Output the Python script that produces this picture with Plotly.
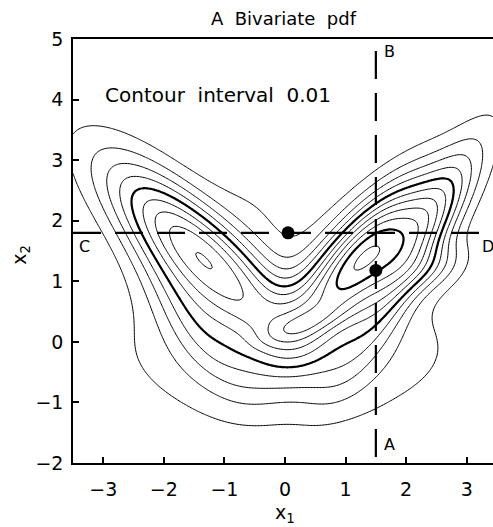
import numpy as np
import plotly.graph_objects as go

# Mixture components describing the bivariate pdf (read/fitted from the picture)
comp_x1 = [1.298, -1.479, 0.054, -0.186, 2.184, -1.631, 2.488, 0.35]
comp_x2 = [1.426, 1.530, -0.098, 3.265, 1.579, 0.521, 1.232, 0.30]
comp_sd_major = [1.098, 1.349, 1.729, 2.554, 0.297, 0.970, 0.249, 0.55]
comp_sd_minor = [0.408, 0.444, 0.791, 0.655, 1.318, 0.356, 0.421, 0.15]
comp_angle_deg = [49.1, 135.9, -0.2, -281.7, 149.4, 126.4, 295.5, 20.0]
comp_peak = [0.1049, 0.0827, 0.0277, 0.0082, 0.0481, 0.0218, 0.0196, 0.012]

contour_start, contour_end, contour_step = 0.01, 0.11, 0.01
thick_start, thick_end, thick_step = 0.05, 0.10, 0.05

line_AB_x = [1.5, 1.5]
line_AB_y = [4.8, -2.0]
line_CD_x = [-3.5, 3.27]
line_CD_y = [1.8, 1.8]
dots_x = [0.05, 1.5]
dots_y = [1.8, 1.18]

x_ticks = [-3, -2, -1, 0, 1, 2, 3]
y_ticks = [-2, -1, 0, 1, 2, 3, 4, 5]

xs = np.linspace(-3.5, 3.5, 281)
ys = np.linspace(-2, 5, 281)
XX, YY = np.meshgrid(xs, ys)
Z = np.zeros_like(XX)
for mx, my, su, sv, ang, h in zip(comp_x1, comp_x2, comp_sd_major, comp_sd_minor, comp_angle_deg, comp_peak):
    c, s = np.cos(np.radians(ang)), np.sin(np.radians(ang))
    dx, dy = XX - mx, YY - my
    u = dx * c + dy * s
    v = -dx * s + dy * c
    Z += h * np.exp(-0.5 * ((u / su) ** 2 + (v / sv) ** 2))

fig = go.Figure()
fig.add_trace(go.Contour(x=xs, y=ys, z=Z,
                         contours=dict(start=contour_start, end=contour_end, size=contour_step, coloring='none'),
                         line=dict(color='black', width=1), showscale=False, hoverinfo='skip'))
fig.add_trace(go.Contour(x=xs, y=ys, z=Z,
                         contours=dict(start=thick_start, end=thick_end, size=thick_step, coloring='none'),
                         line=dict(color='black', width=2.2), showscale=False, hoverinfo='skip'))
fig.add_trace(go.Scatter(x=line_AB_x, y=line_AB_y, mode='lines',
                         line=dict(color='black', width=2.2, dash='28px,14px'), hoverinfo='skip'))
fig.add_trace(go.Scatter(x=line_CD_x, y=line_CD_y, mode='lines',
                         line=dict(color='black', width=2.2, dash='28px,14px'), hoverinfo='skip'))
fig.add_trace(go.Scatter(x=dots_x, y=dots_y, mode='markers', marker=dict(color='black', size=13), hoverinfo='skip'))

F = 'DejaVu Sans'
NB = '\u00a0'
def ann(t, x, y, size=16, **kw):
    kw.setdefault('xanchor', 'center')
    kw.setdefault('yanchor', 'middle')
    fig.add_annotation(text=t, x=x, y=y, showarrow=False, font=dict(family=F, size=size, color='black'), **kw)

ann(f"A{NB} Bivariate{NB} pdf", -0.02, 1.0495, 18, xref='x', yref='paper')
ann(f"Contour{NB} interval{NB} 0.01", -3.0, 4.08, 20, xanchor='left')
ann("B", 1.6, 4.79, 16, xanchor='left')
ann("A", 1.6, -1.7, 16, xanchor='left')
ann("C", -3.44, 1.58, 16, xanchor='left')
ann("D", 3.22, 1.58, 16, xanchor='left')
ann("x<sub>1</sub>", 0, -0.12, 19, xref='x', yref='paper')
ann("x<sub>2</sub>", -0.125, 0.49, 19, xref='paper', yref='paper', textangle=-90)

fig.update_layout(width=493, height=527, margin=dict(l=73, r=0, t=39, b=64), plot_bgcolor='white',
                  paper_bgcolor='white', showlegend=False, font=dict(family=F, size=19, color='black'))
fig.update_xaxes(range=[-3.5, 3.434], tickvals=x_ticks, showgrid=False, zeroline=False,
                 showline=True, linecolor='black', linewidth=1.5, mirror=True, ticks='inside', ticklen=6,
                 tickwidth=1.5, tickcolor='black', ticklabelstandoff=8)
fig.update_yaxes(range=[-2, 5], tickvals=y_ticks, showgrid=False, zeroline=False,
                 showline=True, linecolor='black', linewidth=1.5, ticks='inside', ticklen=6,
                 tickwidth=1.5, tickcolor='black', ticklabelstandoff=4)
fig.write_html("out.html", config={'displayModeBar': False},
               post_script="document.body.style.margin='0px';document.body.style.overflow='hidden';")
